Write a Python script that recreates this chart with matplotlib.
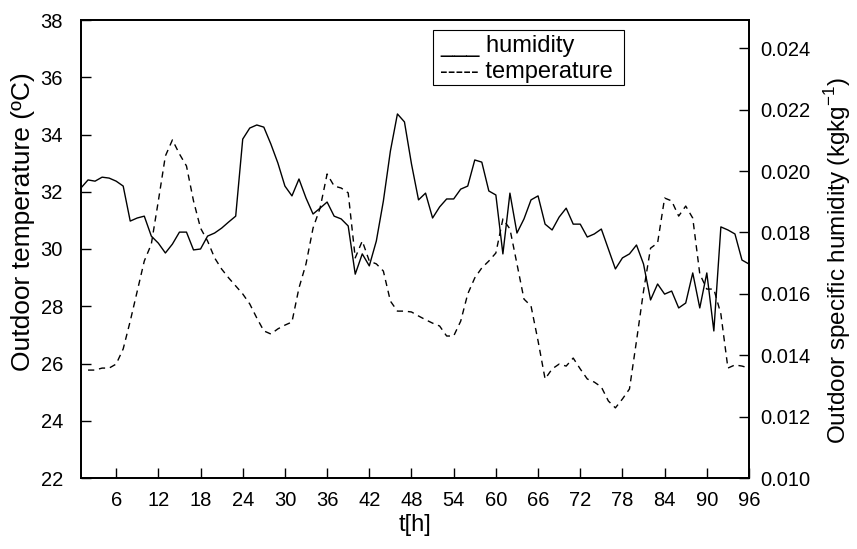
import numpy as np
import matplotlib
matplotlib.use("Agg")
import matplotlib.pyplot as plt
from matplotlib.patches import Rectangle

plt.rcParams['font.family'] = ['Liberation Sans', 'DejaVu Sans']
plt.rcParams['mathtext.fontset'] = 'custom'
plt.rcParams['mathtext.rm'] = 'Liberation Sans'

# hours
hours_hum = list(range(1, 97))
hours_temp = list(range(2, 97))

humidity = [
    0.01945, 0.01971, 0.01967, 0.01980, 0.01977, 0.01967, 0.01951, 0.01837, 0.01847, 0.01853,
    0.01788, 0.01765, 0.01733, 0.01762, 0.01801, 0.01801, 0.01743, 0.01746, 0.01788, 0.01798,
    0.01814, 0.01834, 0.01853, 0.02104, 0.02140, 0.02150, 0.02143, 0.02088, 0.02026, 0.01951,
    0.01919, 0.01974, 0.01912, 0.01860, 0.01879, 0.01899, 0.01853, 0.01844, 0.01821, 0.01664,
    0.01730, 0.01691, 0.01772, 0.01902, 0.02065, 0.02186, 0.02160, 0.02023, 0.01906, 0.01928,
    0.01847, 0.01883, 0.01909, 0.01909, 0.01941, 0.01951, 0.02036, 0.02029, 0.01935, 0.01922,
    0.01730, 0.01928, 0.01798, 0.01844, 0.01906, 0.01919, 0.01827, 0.01808, 0.01850, 0.01879,
    0.01827, 0.01827, 0.01785, 0.01795, 0.01811, 0.01746, 0.01681, 0.01717, 0.01730, 0.01759,
    0.01697, 0.01580, 0.01632, 0.01599, 0.01609, 0.01554, 0.01570, 0.01668, 0.01554, 0.01668,
    0.01479, 0.01818, 0.01808, 0.01795, 0.01710, 0.01697,
]

temperature = [
    25.77, 25.77, 25.84, 25.84, 25.98, 26.51, 27.48, 28.53, 29.58,
    30.17, 31.68, 33.25, 33.81, 33.32, 32.90, 31.68, 30.73, 30.28, 29.69,
    29.30, 28.99, 28.71, 28.43, 28.08, 27.59, 27.14, 27.03, 27.21, 27.34,
    27.45, 28.64, 29.48, 30.73, 31.43, 32.62, 32.20, 32.13, 31.96, 29.69,
    30.28, 29.58, 29.48, 29.23, 28.18, 27.83, 27.83, 27.80, 27.66, 27.53,
    27.41, 27.31, 26.96, 26.96, 27.48, 28.43, 28.99, 29.34, 29.58, 29.86,
    31.05, 30.70, 29.48, 28.25, 28.01, 26.79, 25.46, 25.81, 25.98, 25.91,
    26.19, 25.81, 25.46, 25.35, 25.18, 24.69, 24.45, 24.76, 25.11, 26.79,
    28.53, 30.03, 30.21, 31.78, 31.68, 31.15, 31.50, 31.08, 29.13, 28.60,
    28.60, 27.73, 25.84, 25.95, 25.91, 25.84,
]

x_ticks = list(range(6, 97, 6))
temp_ticks = [22, 24, 26, 28, 30, 32, 34, 36, 38]
hum_ticks = [0.010, 0.012, 0.014, 0.016, 0.018, 0.020, 0.022, 0.024]

fig = plt.figure(figsize=(8.57, 5.49), dpi=100)
ax = fig.add_axes([81/857, 71/549, 668/857, 458/549])
ax2 = ax.twinx()

ax.plot(hours_temp, temperature, color='black', lw=1.0, linestyle=(0, (4.5, 3.5)))
ax2.plot(hours_hum, humidity, color='black', lw=1.0)

ax.set_xlim(1, 96)
ax.set_ylim(22, 38)
ax2.set_ylim(0.010, 0.02492)
ax.set_xticks(x_ticks)
ax.set_yticks(temp_ticks)
ax2.set_yticks(hum_ticks)
ax2.set_yticklabels([f"{v:.3f}" for v in hum_ticks])

for a in (ax, ax2):
    for s in a.spines.values():
        s.set_linewidth(1.3)
    a.tick_params(direction='in', length=7, width=1.0, labelsize=14.5)
ax.tick_params(axis='x', pad=9)
ax.tick_params(axis='y', pad=13)
ax2.tick_params(axis='y', pad=8)

ax.set_xlabel('t[h]', fontsize=17, labelpad=3)
ax.set_ylabel('Outdoor temperature (ºC)', fontsize=19)
ax2.set_ylabel('Outdoor specific humidity (kgkg$^{-1}$)', fontsize=17.5)
ax.yaxis.set_label_coords(-0.069, 0.559)
ax2.yaxis.set_label_coords(1.109, 0.476)

fig.patches.append(Rectangle((433/857, (549-85)/549), 191/857, 55/549,
                             transform=fig.transFigure, fill=False,
                             edgecolor='black', lw=0.8))
fig.text(440/857, 1-46/549, '___ humidity', fontsize=17, va='center', ha='left')
fig.text(440/857, 1-72/549, '----- temperature', fontsize=17, va='center', ha='left')

fig.savefig('out.png', dpi=100)
